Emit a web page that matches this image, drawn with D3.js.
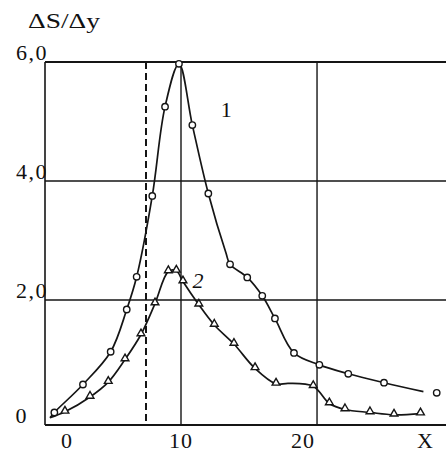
<!DOCTYPE html>
<html><head><meta charset="utf-8">
<script src="https://cdn.jsdelivr.net/npm/d3@7"></script>
<style>body{margin:0;background:#fff}svg{display:block}text{font-family:"Liberation Serif","Times New Roman",serif;fill:#111}</style>
</head><body><svg id="c" width="446" height="454"></svg>
<script>
// x, y, marker(1) / plain line point(0)
const curve1 = [[-1.49,0.02,0],[-1.11,0.11,1],[1.40,0.58,1],[3.83,1.13,1],[5.24,1.84,1],[6.11,2.39,1],[7.48,3.75,1],[8.60,5.25,1],[9.82,5.97,1],[10.93,4.94,1],[12.24,3.79,1],[13.7,2.78,0],[14.02,2.60,1],[15.43,2.38,1],[16.66,2.07,1],[17.70,1.69,1],[19.26,1.11,1],[21.34,0.91,1],[23.71,0.76,1],[26.64,0.61,1],[29.87,0.46,0]];
const curve1Detached = [[30.96,0.44]];
const curve2 = [[-1.49,0.02,0],[-0.18,0.12,1],[2.02,0.37,1],[3.62,0.62,1],[5.09,1.00,1],[6.49,1.42,1],[7.72,1.94,1],[8.89,2.48,1],[9.59,2.49,1],[10.16,2.31,1],[11.46,1.92,1],[12.73,1.58,1],[14.34,1.26,1],[16.07,0.85,1],[17.79,0.59,1],[18.80,0.60,0],[20.84,0.55,1],[22.16,0.26,1],[23.44,0.16,1],[25.49,0.11,1],[27.46,0.07,1],[29.63,0.09,1]];
const xTicks = [0,10,20];
const xTickLabels = ["0","10","20"];
const yTicks = [0,2,4,6];
const yTickLabels = ["0","2,0","4,0","6,0"];
const xGrid = [10,21.15];
const yGrid = [2,4,6];
const dashedX = 6.93;
const yTitle = "ΔS/Δy";
const xTitle = "X";
const curveLabels = [{t:"1",x:13.7,y:5.08,italic:false},{t:"2",x:11.4,y:2.2,italic:true}];

const svg = d3.select("#c");
const x = d3.scaleLinear().domain([0,10,20]).range([67,181,303]);
const y = d3.scaleLinear().domain([0,6]).range([419,62]);
const left = 45, right = 446, bottom = 425;
const ink = "#151515";

// frame
svg.append("line").attr("x1",left).attr("x2",left).attr("y1",y(6)).attr("y2",bottom).attr("stroke",ink).attr("stroke-width",1.6);
svg.append("line").attr("x1",left).attr("x2",right).attr("y1",bottom).attr("y2",bottom).attr("stroke",ink).attr("stroke-width",1.8);
svg.selectAll(".hg").data(yGrid).join("line").attr("x1",left).attr("x2",right)
  .attr("y1",d=>y(d)).attr("y2",d=>y(d)).attr("stroke",ink).attr("stroke-width",d=>d===6?1.8:1.4);
svg.selectAll(".vg").data(xGrid).join("line").attr("x1",d=>x(d)).attr("x2",d=>x(d))
  .attr("y1",y(6)).attr("y2",bottom).attr("stroke",ink).attr("stroke-width",1.4);
svg.append("line").attr("x1",x(dashedX)).attr("x2",x(dashedX)).attr("y1",y(6)).attr("y2",y(0)+5)
  .attr("stroke",ink).attr("stroke-width",2).attr("stroke-dasharray","7,4");

// ticks text
svg.selectAll(".xt").data(xTicks).join("text").attr("x",d=>x(d)).attr("y",448)
  .attr("text-anchor","middle").attr("font-size",22).attr("letter-spacing",1).text((d,i)=>xTickLabels[i]);
svg.selectAll(".yt").data(yTicks).join("text")
  .attr("x",d=>d===0?28:48).attr("y",d=>d===0?y(d)+4:y(d)-2)
  .attr("text-anchor","end").attr("font-size",22).attr("letter-spacing",1.5).text((d,i)=>yTickLabels[i]);
svg.append("text").attr("x",28).attr("y",28).attr("font-size",22).attr("textLength",72).attr("lengthAdjust","spacingAndGlyphs").text(yTitle);
svg.append("text").attr("x",425).attr("y",448).attr("text-anchor","middle").attr("font-size",22).text(xTitle);

// curves
const line = d3.line().x(d=>x(d[0])).y(d=>y(d[1])).curve(d3.curveCatmullRom.alpha(0.5));
[curve1,curve2].forEach(c=>{
  svg.append("path").attr("d",line(c)).attr("fill","none").attr("stroke",ink).attr("stroke-width",1.7);
});
svg.selectAll(".m1").data(curve1.filter(d=>d[2]).concat(curve1Detached)).join("circle")
  .attr("cx",d=>x(d[0])).attr("cy",d=>y(d[1])).attr("r",3.2)
  .attr("fill","#fff").attr("stroke",ink).attr("stroke-width",1.4);
const tri = d3.symbol().type(d3.symbolTriangle).size(26);
svg.selectAll(".m2").data(curve2.filter(d=>d[2])).join("path")
  .attr("d",tri).attr("transform",d=>`translate(${x(d[0])},${y(d[1])-1})`)
  .attr("fill","#fff").attr("stroke",ink).attr("stroke-width",1.4);

svg.selectAll(".cl").data(curveLabels).join("text").attr("x",d=>x(d.x)).attr("y",d=>y(d.y))
  .attr("text-anchor","middle").attr("font-size",22).attr("font-style",d=>d.italic?"italic":"normal").text(d=>d.t);
</script></body></html>
